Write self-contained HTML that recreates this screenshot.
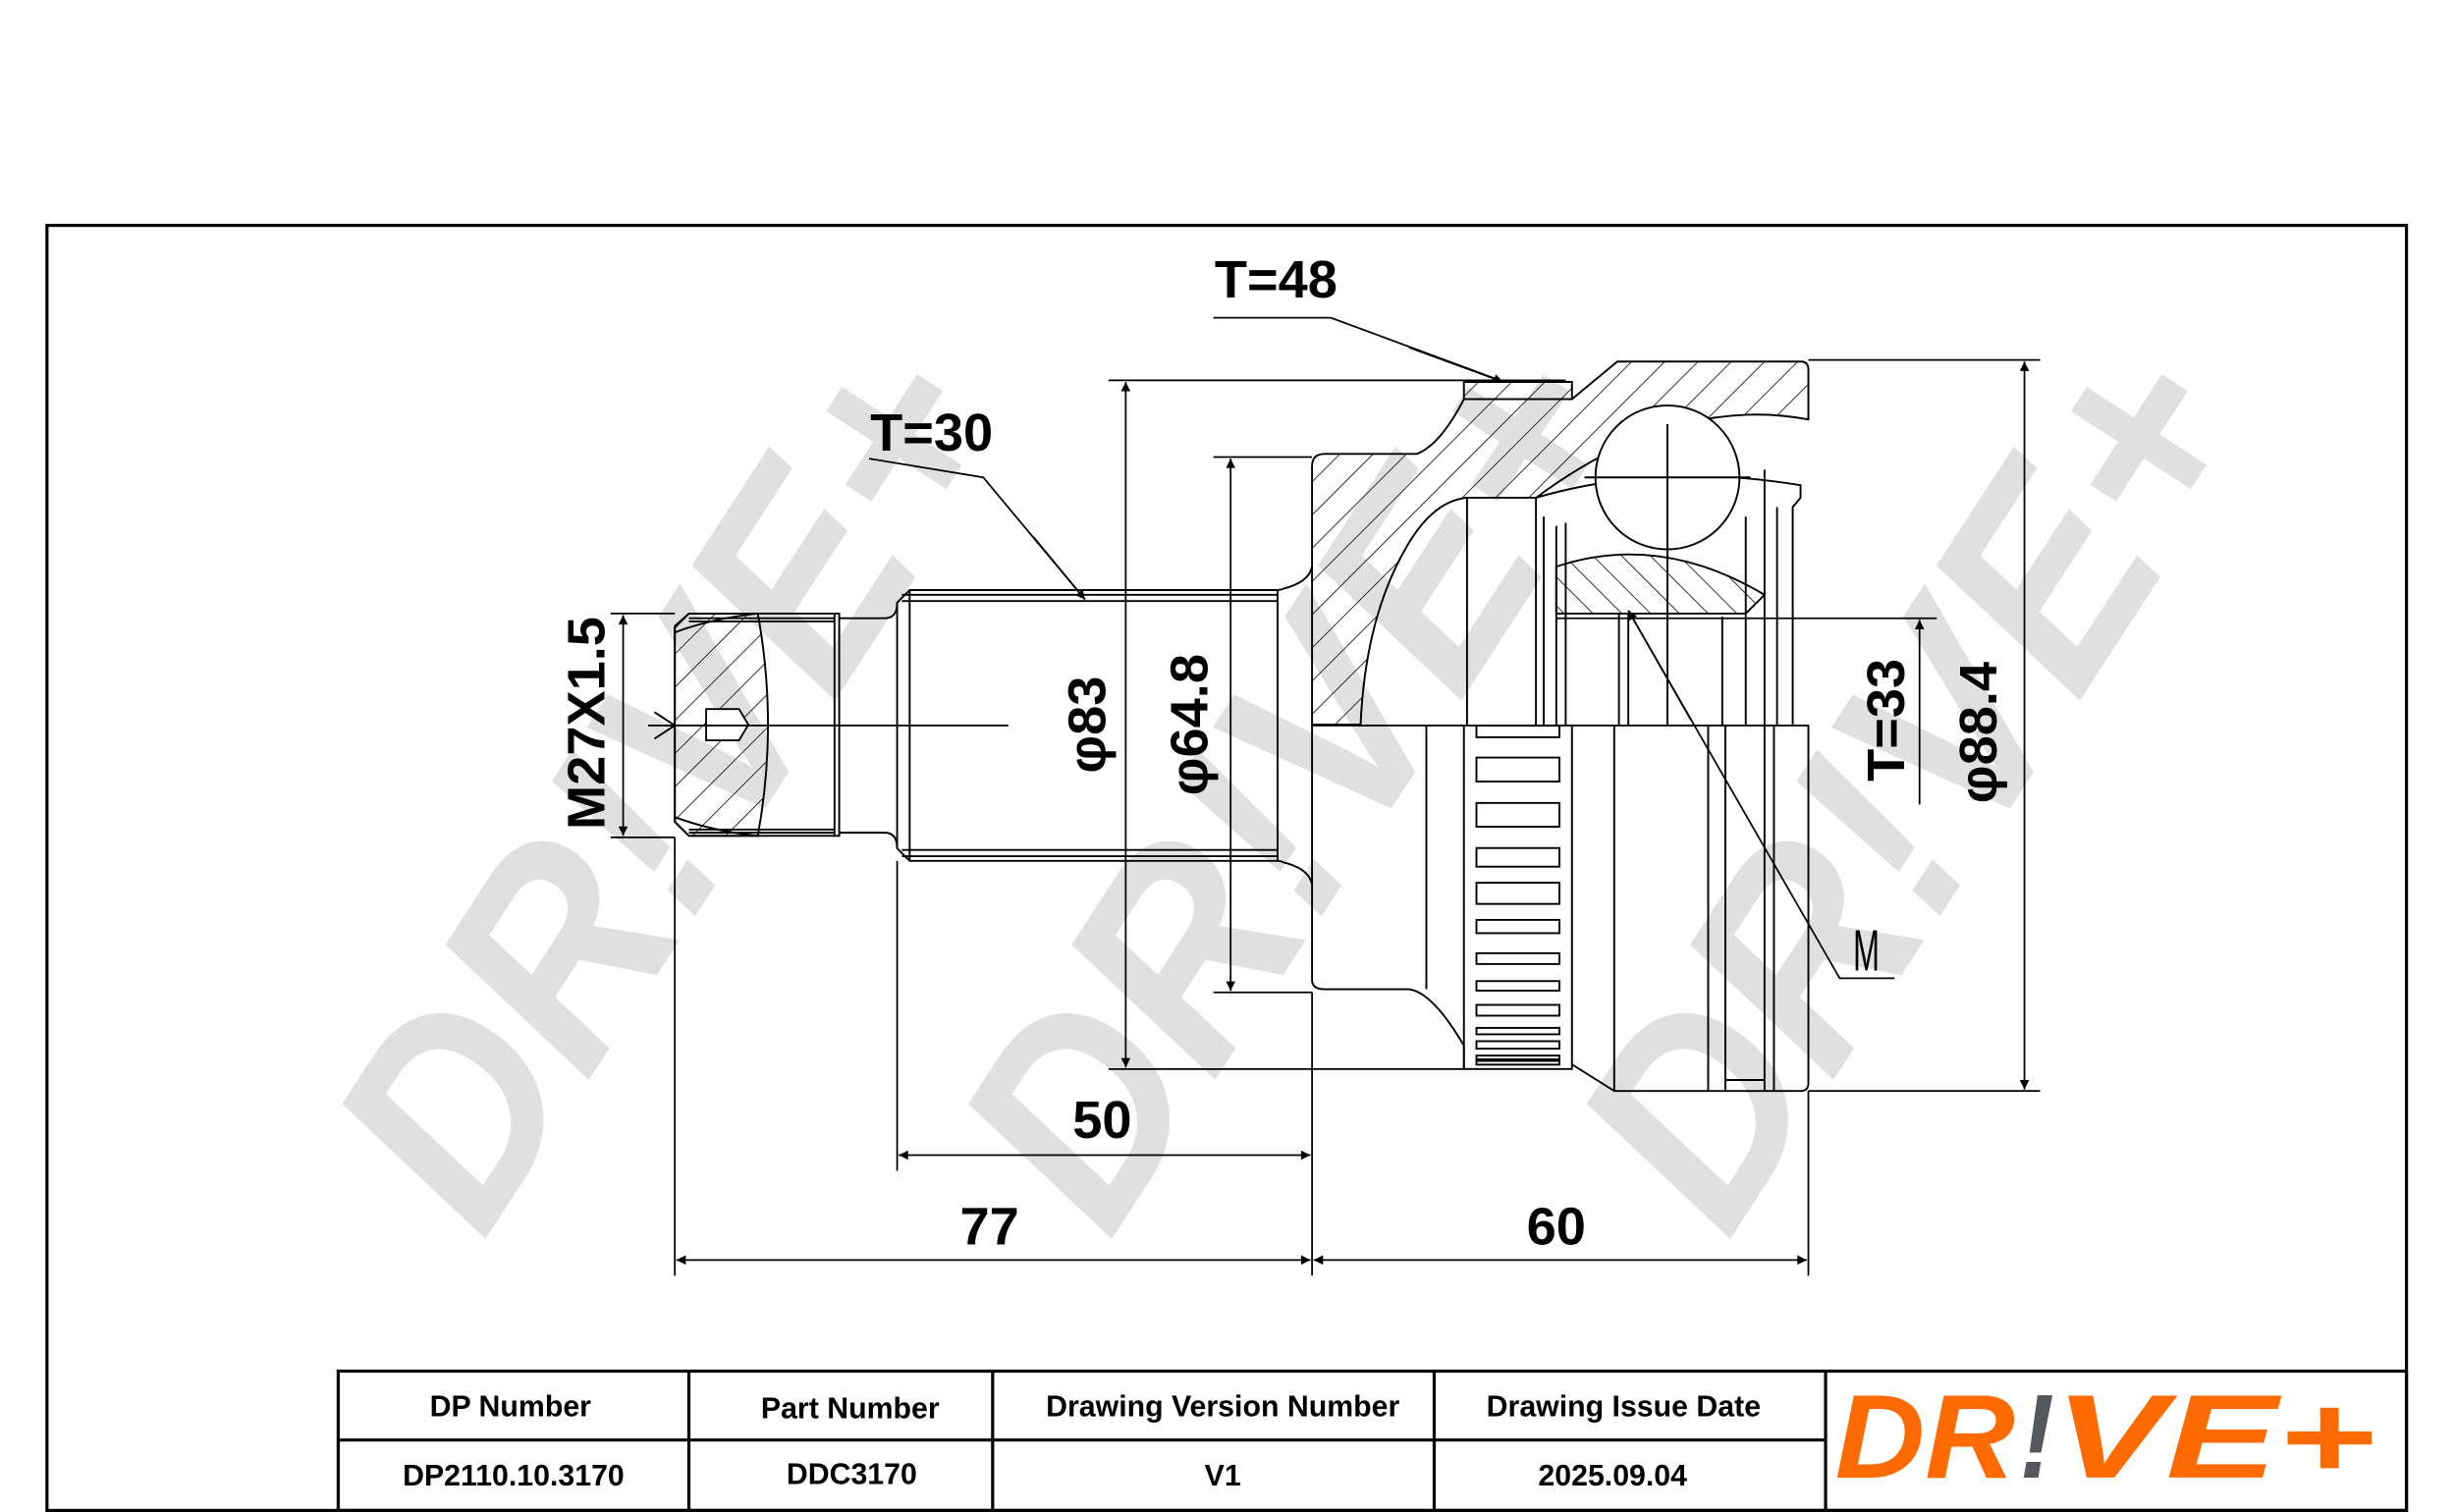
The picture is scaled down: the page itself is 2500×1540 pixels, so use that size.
<!DOCTYPE html>
<html><head><meta charset="utf-8"><style>
html,body{margin:0;padding:0;background:#fff;}
svg{display:block;}
text{font-family:"Liberation Sans",sans-serif;}
</style></head><body>
<svg width="2500" height="1540" viewBox="0 0 1568 966" preserveAspectRatio="none" xmlns="http://www.w3.org/2000/svg">
<defs>
<pattern id="h1" patternUnits="userSpaceOnUse" width="15" height="15" patternTransform="rotate(45)"><line x1="0" y1="0" x2="0" y2="15" stroke="#000" stroke-width="1"/></pattern>
<pattern id="h2" patternUnits="userSpaceOnUse" width="13" height="13" patternTransform="rotate(-45)"><line x1="0" y1="0" x2="0" y2="13" stroke="#000" stroke-width="1"/></pattern>
<marker id="a" viewBox="0 0 10 10" refX="10" refY="5" markerWidth="14" markerHeight="6" markerUnits="userSpaceOnUse" orient="auto-start-reverse"><path d="M0,0 L10,5 L0,10 Z" fill="#000"/></marker>
</defs>
<rect width="1568" height="966" fill="#fff"/>
<g fill="#e0e0e0" font-weight="bold" font-style="italic" font-size="180">
<text x="425" y="500" text-anchor="middle" dominant-baseline="central" textLength="620" lengthAdjust="spacingAndGlyphs" transform="rotate(-57 425 500)">DR!VE+</text>
<text x="825" y="500" text-anchor="middle" dominant-baseline="central" textLength="620" lengthAdjust="spacingAndGlyphs" transform="rotate(-57 825 500)">DR!VE+</text>
<text x="1220" y="500" text-anchor="middle" dominant-baseline="central" textLength="620" lengthAdjust="spacingAndGlyphs" transform="rotate(-57 1220 500)">DR!VE+</text>
</g>
<rect x="30" y="144" width="1507" height="821" fill="none" stroke="#000" stroke-width="2"/>

<g fill="none" stroke="#000" stroke-width="1.2">
<path d="M440,392 L536,392 L536,534 L440,534 L431,525 L431,401 Z"/>
<path d="M431,400 L440,392 L484,392 Q497,463 484,534 L440,534 L431,525 Z" fill="url(#h1)"/>
<path d="M431,404 Q455,395 484,392 M431,522 Q455,531 484,534"/>
<path d="M451,453 L472,453 L478,463 L472,473 L451,473 Z" fill="#fff"/>
<path d="M440,395 L533,395 M440,397 L533,397 M440,530 L533,530 M440,532 L533,532 M533,392 L533,534"/>
<path d="M536,395 L565,395 Q573,395 573,385 L581,377 L816,377 Q818,377 820,376 Q836,372 838,362"/>
<path d="M536,532 L565,532 Q573,532 573,542 L581,550 L816,550 Q818,550 820,551 Q836,555 838,565"/>
<path d="M573,385 L573,542 M581,377 L581,550 M576,380 L816,380 M576,384 L816,384 M576,543 L816,543 M576,547 L816,547 M816,377 L816,550"/>
<line x1="414" y1="463.5" x2="644" y2="463.5"/>
<path d="M418,455 L431,463.5 L418,472"/>
<path d="M838,463 L838,298 Q838,290 846,290 L905,290 Q920,284 935,255 L1004,255 L1033,231 L1150,231 Q1155,231 1155,236 L1155,268 Q1070,252 981,318 L937,318 Q915,320 898,350 Q872,395 869,463 Z" fill="url(#h1)"/>
<path d="M935,244 L1004,244 L1004,255 L935,255 Z" fill="url(#h1)"/>
<path d="M937,318 L937,463 M981,318 L981,463 M986,330 L986,463 M994,336 L994,463 M1000,334 L1000,463"/>
<path d="M981,318 Q1060,295 1150,310 L1150,318 L1145,324 L1145,463 M1135,324 L1135,463 M1127,300 L1127,463 M1115,330 L1115,463 M1100,394 L1100,463"/>
<path d="M994,362 Q1060,340 1127,380 L1115,392 L994,392 Z" fill="url(#h2)"/>
<circle cx="1065" cy="305" r="46" fill="#fff"/>
<path d="M1065,271 L1065,463 M1012,305 L1118,305"/>
<path d="M1034,392 L1034,463 M1040,392 L1040,463"/>
<line x1="838" y1="463.5" x2="1155" y2="463.5"/>
<path d="M838,463 L838,626 Q838,632 846,632 L900,632 Q915,634 935,668 L935,683 L1004,683 L1004,680 L1031,697 L1150,697 Q1155,697 1155,692 L1155,463"/>
<path d="M911,463 L911,632 M935,463 L935,683 M1004,463 L1004,680 M1031,463 L1031,697 M1091,463 L1091,697 M1102,463 L1102,697 M1127,463 L1127,697 M1133,463 L1133,697 M1102,690 L1127,690"/>
<g>
<rect x="943" y="463.6" width="53" height="7.4"/><rect x="943" y="484" width="53" height="15.3"/><rect x="943" y="513" width="53" height="15.2"/><rect x="943" y="541.8" width="53" height="11.9"/><rect x="943" y="564" width="53" height="13.5"/><rect x="943" y="587.7" width="53" height="8.5"/><rect x="943" y="609" width="53" height="6.9"/><rect x="943" y="626.8" width="53" height="6.1"/><rect x="943" y="642" width="53" height="6.9"/><rect x="943" y="656.7" width="53" height="4.1"/><rect x="943" y="665.2" width="53" height="4.8"/><rect x="943" y="674.4" width="53" height="2.4"/><rect x="943" y="677.8" width="53" height="2.4"/>
</g>
</g>

<g stroke="#000" stroke-width="1.1" fill="none">
<path d="M390,392 L431,392 M390,535 L431,535"/>
<line x1="398" y1="393" x2="398" y2="534" marker-start="url(#a)" marker-end="url(#a)"/>
<path d="M708,243 L1000,243 M708,683 L935,683"/>
<line x1="719" y1="244" x2="719" y2="682" marker-start="url(#a)" marker-end="url(#a)"/>
<path d="M775,292 L838,292 M775,634 L838,634"/>
<line x1="786" y1="293" x2="786" y2="633" marker-start="url(#a)" marker-end="url(#a)"/>
<path d="M1155,230 L1303,230 M1155,697 L1303,697"/>
<line x1="1293" y1="231" x2="1293" y2="696" marker-start="url(#a)" marker-end="url(#a)"/>
<path d="M994,395 L1237,395"/>
<line x1="1226" y1="514" x2="1226" y2="396" marker-end="url(#a)"/>
<path d="M431,535 L431,815 M573,550 L573,748 M838,634 L838,815 M1155,697 L1155,815"/>
<line x1="574" y1="738" x2="837" y2="738" marker-start="url(#a)" marker-end="url(#a)"/>
<line x1="432" y1="805" x2="837" y2="805" marker-start="url(#a)" marker-end="url(#a)"/>
<line x1="839" y1="805" x2="1154" y2="805" marker-start="url(#a)" marker-end="url(#a)"/>
<path d="M775,203 L850,203 L958,243"/><line x1="900" y1="222" x2="960" y2="244" marker-end="url(#a)"/>
<path d="M555,293 L628,305 L693,383"/><line x1="660" y1="343" x2="693" y2="383" marker-end="url(#a)"/>
<path d="M1210,625 L1175,625 L1040,390"/><line x1="1080" y1="460" x2="1040" y2="390" marker-end="url(#a)"/>
</g>

<g font-weight="bold" font-size="34" fill="#000">
<text x="815" y="190" text-anchor="middle">T=48</text>
<text x="595" y="288" text-anchor="middle">T=30</text>
<text x="704" y="727" text-anchor="middle">50</text>
<text x="632" y="795" text-anchor="middle">77</text>
<text x="994" y="795" text-anchor="middle">60</text>
<text transform="translate(386 462) rotate(-90)" text-anchor="middle">M27X1.5</text>
<text transform="translate(706 463) rotate(-90)" text-anchor="middle">φ83</text>
<text transform="translate(771 463) rotate(-90)" text-anchor="middle">φ64.8</text>
<text transform="translate(1216 460) rotate(-90)" text-anchor="middle">T=33</text>
<text transform="translate(1275 468) rotate(-90)" text-anchor="middle">φ88.4</text>
<text transform="translate(1192 620) scale(0.6 1.1)" text-anchor="middle" font-weight="normal">M</text>
</g>

<g stroke="#000" stroke-width="2" fill="none">
<rect x="216" y="876" width="1321" height="89"/>
<line x1="216" y1="920" x2="1166" y2="920"/>
<path d="M440,876 L440,965 M634,876 L634,965 M916,876 L916,965 M1166,876 L1166,965"/>
</g>
<g font-weight="bold" font-size="19" fill="#000" text-anchor="middle">
<text x="326" y="905">DP Number</text>
<text x="543" y="906">Part Number</text>
<text x="781" y="905">Drawing Version Number</text>
<text x="1037" y="905">Drawing Issue Date</text>
<text x="328" y="949">DP2110.10.3170</text>
<text x="544" y="948">DDC3170</text>
<text x="781" y="949">V1</text>
<text x="1030" y="949">2025.09.04</text>
</g>
<g font-weight="bold" font-style="italic" font-size="76">
<text x="1172" y="944" fill="#ff6a00" textLength="115" lengthAdjust="spacingAndGlyphs">DR</text>
<text x="1290" y="944" fill="#55585a" textLength="22" lengthAdjust="spacingAndGlyphs">!</text>
<text x="1312" y="944" fill="#ff6a00" textLength="205" lengthAdjust="spacingAndGlyphs">VE+</text>
</g>
</svg>
</body></html>
